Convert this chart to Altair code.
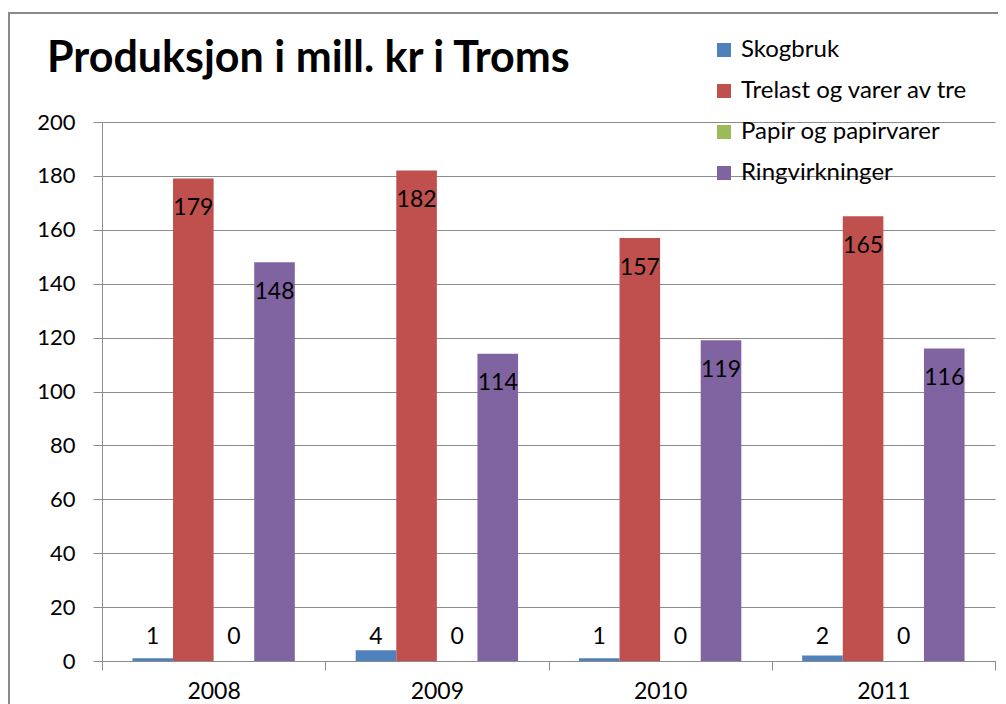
import altair as alt
import pandas as pd

title_text = "Produksjon i mill. kr i Troms"
years = ["2008", "2009", "2010", "2011"]
series = ["Skogbruk", "Trelast og varer av tre", "Papir og papirvarer", "Ringvirkninger"]
skogbruk = [1, 4, 1, 2]
trelast = [179, 182, 157, 165]
papir = [0, 0, 0, 0]
ring = [148, 114, 119, 116]
colors = ["#4F81BD", "#C0504D", "#9BBB59", "#8064A2"]
y_ticks = [0, 20, 40, 60, 80, 100, 120, 140, 160, 180, 200]

rows = []
for i, yr in enumerate(years):
    for s, vals in zip(series, [skogbruk, trelast, papir, ring]):
        rows.append({"year": yr, "series": s, "value": vals[i]})
df = pd.DataFrame(rows)

W, H = 893, 539
FONT = "Lato"
GRAY = "#8c8c8c"

x_enc = alt.X(
    "year:N", title=None, sort=years,
    scale=alt.Scale(paddingInner=0, paddingOuter=0),
    axis=alt.Axis(labelAngle=0, tickBand="extent", tickSize=9, labelPadding=10,
                  labelFontSize=23, labelFont=FONT, labelColor="#000",
                  domainColor=GRAY, tickColor=GRAY, grid=False),
)
xo_enc = alt.XOffset("series:N", sort=series,
                     scale=alt.Scale(paddingOuter=0.75, paddingInner=0))
y_scale = alt.Scale(domain=[0, 200], nice=False)

bars = alt.Chart(df).mark_bar().encode(
    x=x_enc,
    xOffset=xo_enc,
    y=alt.Y("value:Q", title=None, scale=y_scale,
            axis=alt.Axis(values=y_ticks, tickSize=9, labelPadding=18,
                          labelFontSize=22, labelFont=FONT, labelColor="#000",
                          domainColor=GRAY, tickColor=GRAY, gridColor=GRAY,
                          gridWidth=1)),
    color=alt.Color("series:N", sort=series,
                    scale=alt.Scale(domain=series, range=colors),
                    legend=alt.Legend(title=None, orient="none", legendX=610, legendY=-84,
                                      symbolType="square", symbolSize=196,
                                      symbolStrokeWidth=0, labelFontSize=24,
                                      labelFont=FONT, labelColor="#000", labelLimit=400,
                                      labelOffset=5, rowPadding=17, padding=0)),
)

labels = alt.Chart(df).transform_calculate(
    label_y="datum.value >= 20 ? datum.value - 11 : 9"
).mark_text(fontSize=23, font=FONT, color="#000", baseline="middle").encode(
    x=alt.X("year:N", sort=years),
    xOffset=xo_enc,
    y=alt.Y("label_y:Q", scale=y_scale),
    text=alt.Text("value:Q"),
)

title = alt.Chart(pd.DataFrame({"t": [title_text]})).mark_text(
    align="left", baseline="alphabetic", fontSize=43, fontWeight="bold",
    font=FONT, color="#000"
).encode(text="t:N", x=alt.value(-55), y=alt.value(-50))

border = alt.Chart(pd.DataFrame({"a": [0]})).mark_rect(
    fill=None, stroke="#8a8a8a", strokeWidth=2
).encode(x=alt.value(-93), y=alt.value(-109), x2=alt.value(W + 100), y2=alt.value(H + 100))

chart = alt.layer(border, bars, labels, title).properties(
    width=W, height=H,
    autosize=alt.AutoSizeParams(type="none"),
    padding={"left": 94, "top": 114, "right": 3, "bottom": 45},
).configure_view(stroke=None)

chart.save("out.html", embed_options={"renderer": "svg", "actions": False})
